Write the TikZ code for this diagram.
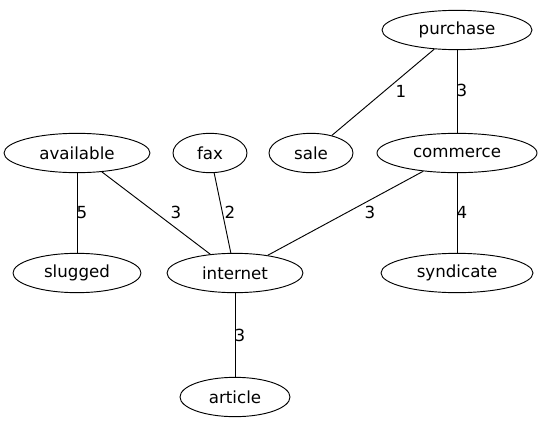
\documentclass[tikz,border=0pt]{standalone}
\usepackage{fontspec}
\setmainfont{DejaVu Sans}
\usetikzlibrary{shapes.geometric}

\begin{document}
\begin{tikzpicture}[
    x=0.75pt, y=-0.75pt,
    wordNode/.style={ellipse, draw=black, line width=0.7pt, inner sep=0pt, minimum height=29.5pt, font=\fontsize{12.5}{14}\selectfont},
    linkRel/.style={black, line width=0.7pt},
    weightLabel/.style={font=\fontsize{12.5}{14}\selectfont, inner sep=1pt}
]
    % Frame
    \useasboundingbox (0,0) rectangle (544,429);

    % Top row
    \node[wordNode, minimum width=112.5pt] (purchase) at (457,30) {purchase};

    % Second row
    \node[wordNode, minimum width=109.5pt] (available) at (77,153)  {available};
    \node[wordNode, minimum width=55.5pt]  (fax)       at (210,153) {fax};
    \node[wordNode, minimum width=63pt]    (sale)      at (311,153) {sale};
    \node[wordNode, minimum width=120pt]   (commerce)  at (457,153) {commerce};

    % Third row
    \node[wordNode, minimum width=96pt]  (slugged)   at (77,273)  {slugged};
    \node[wordNode, minimum width=102pt] (internet)  at (235,273) {internet};
    \node[wordNode, minimum width=114pt] (syndicate) at (457,273) {syndicate};

    % Bottom row
    \node[wordNode, minimum width=82.5pt] (article) at (235,397) {article};

    % Links
    \draw[linkRel] (purchase) -- (sale);
    \draw[linkRel] (purchase) -- (commerce);
    \draw[linkRel] (available) -- (slugged);
    \draw[linkRel] (available) -- (internet);
    \draw[linkRel] (fax) -- (internet);
    \draw[linkRel] (commerce) -- (internet);
    \draw[linkRel] (commerce) -- (syndicate);
    \draw[linkRel] (internet) -- (article);

    % Weights
    \node[weightLabel] (w1) at (401,91)  {1};
    \node[weightLabel] (w2) at (462,90)  {3};
    \node[weightLabel] (w3) at (82,213)  {5};
    \node[weightLabel] (w4) at (176,212) {3};
    \node[weightLabel] (w5) at (230,212) {2};
    \node[weightLabel] (w6) at (370,212) {3};
    \node[weightLabel] (w7) at (462,212) {4};
    \node[weightLabel] (w8) at (240,335) {3};
\end{tikzpicture}
\end{document}
